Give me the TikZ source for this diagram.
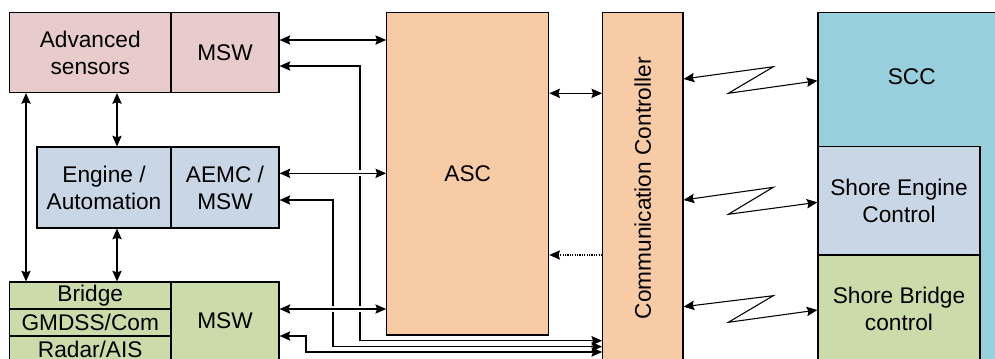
\documentclass[tikz,border=0pt]{standalone}
\usepackage{fontspec}
\setmainfont{Liberation Sans}
\usetikzlibrary{arrows.meta}
\newcommand\fsz{\fontsize{17}{20.3}\selectfont}
\definecolor{cpink}{HTML}{E8CBCB}
\definecolor{cblue}{HTML}{C9D6E5}
\definecolor{cgreen}{HTML}{CCDBAA}
\definecolor{cpeach}{HTML}{F8CBA7}
\definecolor{ccyan}{HTML}{98CFDD}
\tikzset{
  box/.style={draw, line width=0.9pt, inner sep=0pt, align=center, font=\fsz},
  wh/.style 2 args={minimum width={(#1)*0.75pt}, minimum height={(#2)*0.75pt}},
  lbl/.style={inner sep=0pt, align=center, font=\fsz},
  conn/.style={line width=0.8pt},
  gap/.style={preaction={draw=white, line width=4.5pt, -, shorten <=3pt, shorten >=3pt}},
  >={Stealth[length=8pt,width=7pt,inset=1.2pt]}
}
\begin{document}
\begin{tikzpicture}[x=0.75pt,y=-0.75pt]
\clip (0,0) rectangle (995,358);
\fill[white] (0,0) rectangle (995,358);
% left blocks
\node[box, fill=cpink, wh={161.5}{80}] (adv) at (90.25,52.5) {Advanced\\sensors};
\node[box, fill=cpink, wh={108}{80}] (advmsw) at (225,52.5) {MSW};
\node[box, fill=cblue, wh={134}{81}] (eng) at (104,187.5) {Engine /\\Automation};
\node[box, fill=cblue, wh={108}{81}] (engmsw) at (225,187.5) {AEMC /\\MSW};
\node[box, fill=cgreen, wh={161.5}{27}] (bridge) at (90.25,295.5) {Bridge};
\node[box, fill=cgreen, wh={161.5}{27}] (gmdss) at (90.25,322.5) {GMDSS/Com};
\node[box, fill=cgreen, wh={161.5}{26}] (radar) at (90.25,349) {Radar/AIS};
\node[box, fill=cgreen, wh={108}{78}] (bmsw) at (225,321) {MSW};
% centre blocks
\node[box, fill=cpeach, wh={162}{322.5}] (asc) at (467.7,173.75) {ASC};
\node[box, fill=cpeach, wh={80.3}{351.5}] (comm) at (642.85,188.25) {};
\node[lbl, rotate=90] (commtext) at (comm.center) {Communication Controller};
% right blocks
\node[box, fill=ccyan, wh={192}{367.5}] (scc) at (914,196.25) {};
\node[lbl] (scctext) at (911.7,77) {SCC};
\node[box, fill=cblue, wh={162}{108.3}] (seng) at (899,200.85) {Shore Engine\\Control};
\node[box, fill=cgreen, wh={162}{107}] (sbridge) at (899,308.5) {Shore Bridge\\control};
% left vertical links
\draw[conn,<->] (adv.south -| 26,0) -- (bridge.north -| 26,0);
\draw[conn,<->] (adv.south -| 117,0) -- (eng.north -| 117,0);
\draw[conn,<->] (eng.south -| 117,0) -- (bridge.north -| 117,0);
% return lines from communication controller
\draw[conn,<->] (comm.west |- 0,340.7) -| (360,66) -- (advmsw.east |- 0,66);
\draw[conn,<->] (comm.west |- 0,346.7) -| (333,200) -- (engmsw.east |- 0,200);
\draw[conn,<->] (comm.west |- 0,352) -| (306,336) -- (bmsw.east |- 0,336);
% MSW <-> ASC
\draw[conn,<->] (advmsw.east |- 0,40) -- (asc.west |- 0,40);
\draw[conn,<->,gap] (engmsw.east |- 0,173.3) -- (asc.west |- 0,173.3);
\draw[conn,<->,gap] (bmsw.east |- 0,309) -- (asc.west |- 0,309);
% ASC <-> comm
\draw[conn,<->] (asc.east |- 0,93.3) -- (comm.west |- 0,93.3);
\draw[conn,->,densely dotted] (comm.west |- 0,255) -- (asc.east |- 0,255);
% wireless links
\draw[conn,<->] (comm.east |- 0,79) -- (773.3,66.7) -- (728.3,93.3) -- (scc.west |- 0,80.7);
\draw[conn,<->] (comm.east |- 0,200) -- (773.3,187.3) -- (728.3,214.3) -- (seng.west |- 0,202.3);
\draw[conn,<->] (comm.east |- 0,306.7) -- (773.3,295.7) -- (728.3,322.3) -- (sbridge.west |- 0,310);
\end{tikzpicture}
\end{document}
